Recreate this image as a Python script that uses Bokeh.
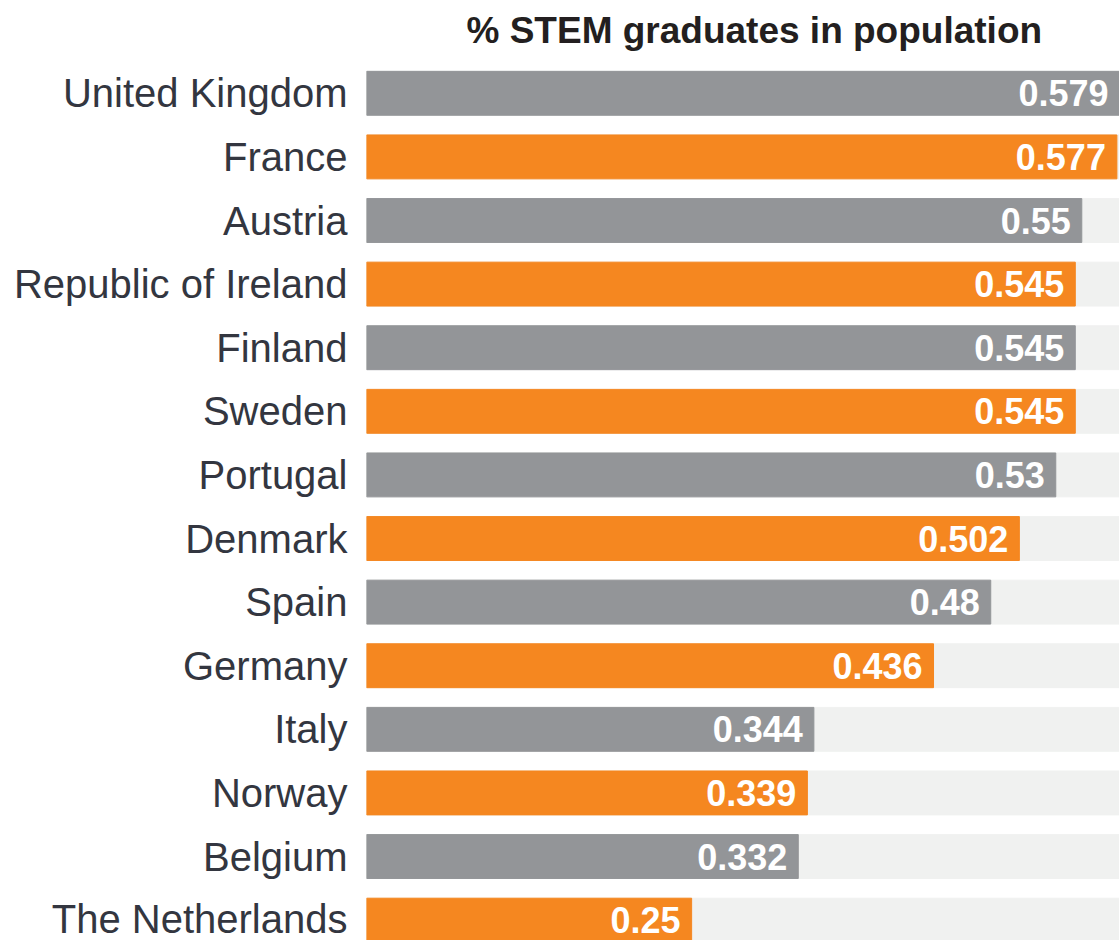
from bokeh.plotting import figure
from bokeh.models import Range1d, FixedTicker, ColumnDataSource
from bokeh.core.properties import value
from bokeh.embed import file_html
from bokeh.resources import INLINE

countries = ["United Kingdom", "France", "Austria", "Republic of Ireland", "Finland",
             "Sweden", "Portugal", "Denmark", "Spain", "Germany", "Italy", "Norway",
             "Belgium", "The Netherlands"]
shares = [0.579, 0.577, 0.55, 0.545, 0.545, 0.545, 0.53, 0.502, 0.48, 0.436,
          0.344, 0.339, 0.332, 0.25]
title_text = "% STEM graduates in population"

GRAY = "#939598"
ORANGE = "#f58720"
TRACK = "#f0f1f0"
FONT = "Liberation Sans"

rows = list(range(len(countries)))
colors = [GRAY if i % 2 == 0 else ORANGE for i in rows]
labels = [f"{v:g}" for v in shares]
xmax = max(shares)

src = ColumnDataSource(dict(row=rows, share=shares, color=colors, label=labels,
                            track=[xmax] * len(rows)))

p = figure(width=1119, height=940, output_backend="svg", toolbar_location=None,
           x_range=Range1d(0, xmax), y_range=Range1d(13.32, -0.5),
           min_border_left=366, min_border_right=0, min_border_bottom=0,
           min_border_top=61, title=title_text)

p.hbar(y="row", left=0, right="track", height=0.69, color=TRACK, source=src)
p.hbar(y="row", left=0, right="share", height=0.69, color="color", source=src)
p.text(x="share", y="row", text="label", x_offset=-11, text_align="right",
       text_baseline="middle", text_color="white", text_font=value(FONT),
       text_font_style="bold", text_font_size="36px", source=src)

p.yaxis.ticker = FixedTicker(ticks=rows)
p.yaxis.major_label_overrides = {i: c for i, c in zip(rows, countries)}
p.yaxis.major_label_text_font = FONT
p.yaxis.major_label_text_font_size = "40px"
p.yaxis.major_label_text_color = "#333640"
p.yaxis.axis_line_color = None
p.yaxis.major_tick_line_color = None
p.yaxis.minor_tick_line_color = None
p.yaxis.major_tick_out = 0
p.yaxis.major_tick_in = 0
p.yaxis.major_label_standoff = 19
p.xaxis.visible = False
p.grid.visible = False
p.outline_line_color = None

p.title.text_font = FONT
p.title.text_font_style = "bold"
p.title.text_font_size = "37px"
p.title.text_color = "#231f20"
p.title.align = "left"
p.title.offset = 100
p.title.standoff = 18
p.title.vertical_align = "top"

open("out.html", "w").write(file_html(p, INLINE))
